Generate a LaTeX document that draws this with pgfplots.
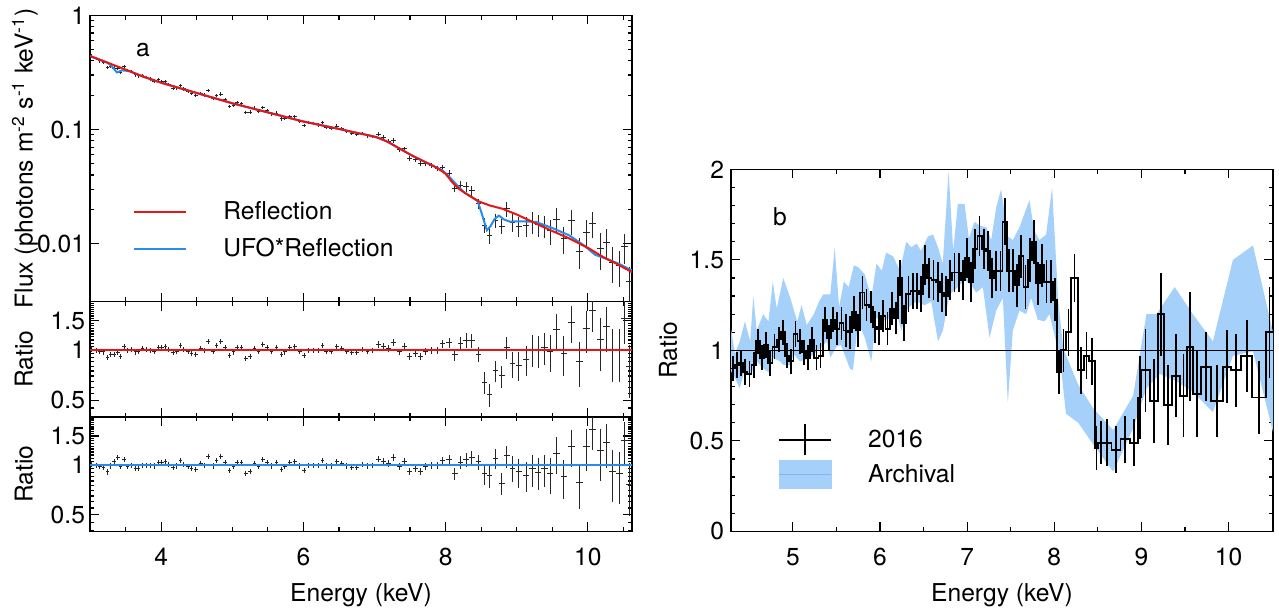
\documentclass[border=0pt]{standalone}
\usepackage{fontspec}
\setmainfont{TeX Gyre Heros}
\usepackage{pgfplots}
\usepackage{pgfplotstable}
\pgfplotsset{compat=1.18}
\usepgfplotslibrary{fillbetween}

\definecolor{modred}{RGB}{228,22,22}
\definecolor{modblue}{RGB}{40,140,235}
\definecolor{bandblue}{RGB}{164,208,250}
\definecolor{bandline}{RGB}{125,182,240}
\newcommand\ff{\fontsize{12.3}{14}\selectfont}

% spectrum: energy, flux, ratio to reflection, ratio to UFO*reflection, x half width, relative error
\pgfplotstableread{
E F r1 r2 ex rel
3.02 0.440 1.009 1.009 0.025 0.035
3.085 0.421 1.0 0.991 0.025 0.035
3.14 0.399 0.978 0.978 0.025 0.035
3.19 0.387 0.974 0.966 0.025 0.035
3.245 0.349 0.904 0.908 0.025 0.035
3.29 0.355 0.944 0.987 0.025 0.035
3.34 0.345 0.944 1.044 0.025 0.035
3.39 0.344 0.966 1.105 0.025 0.035
3.43 0.319 0.916 0.978 0.025 0.035
3.48 0.357 1.053 1.076 0.025 0.035
3.53 0.329 1.0 0.978 0.025 0.035
3.58 0.323 1.009 0.991 0.025 0.035
3.64 0.301 0.974 0.957 0.025 0.035
3.68 0.296 0.978 0.957 0.025 0.035
3.74 0.297 1.017 1.0 0.025 0.035
3.79 0.287 1.009 1.0 0.025 0.035
3.85 0.277 1.0 0.991 0.025 0.035
3.90 0.266 0.987 0.987 0.025 0.035
3.96 0.273 1.04 1.04 0.025 0.035
4.01 0.264 1.031 1.031 0.025 0.035
4.06 0.264 1.053 1.053 0.025 0.035
4.11 0.248 1.009 1.009 0.025 0.035
4.17 0.231 0.966 0.966 0.025 0.035
4.22 0.232 0.987 0.987 0.025 0.035
4.27 0.244 1.062 1.062 0.025 0.035
4.32 0.227 1.009 1.009 0.025 0.035
4.38 0.215 0.978 0.978 0.025 0.035
4.43 0.206 0.957 0.957 0.025 0.035
4.49 0.198 0.944 0.944 0.025 0.035
4.56 0.207 1.017 1.017 0.025 0.035
4.61 0.200 1.0 1.0 0.025 0.035
4.66 0.219 1.122 1.122 0.025 0.035
4.73 0.187 0.987 0.987 0.025 0.035
4.78 0.198 1.067 1.067 0.025 0.035
4.84 0.204 1.122 1.122 0.025 0.035
4.90 0.182 1.031 1.031 0.025 0.035
4.96 0.159 0.924 0.924 0.025 0.035
5.02 0.164 0.974 0.974 0.025 0.035
5.07 0.172 1.04 1.04 0.025 0.035
5.13 0.168 1.04 1.04 0.025 0.035
5.19 0.141 0.892 0.892 0.025 0.035
5.25 0.142 0.916 0.916 0.025 0.035
5.31 0.154 1.017 1.017 0.025 0.035
5.37 0.145 0.978 0.978 0.025 0.035
5.43 0.156 1.076 1.076 0.025 0.035
5.49 0.146 1.031 1.031 0.025 0.035
5.55 0.137 0.987 0.987 0.025 0.035
5.62 0.139 1.031 1.031 0.025 0.035
5.69 0.124 0.944 0.944 0.025 0.035
5.74 0.126 0.974 0.974 0.025 0.035
5.81 0.130 1.031 1.031 0.025 0.035
5.88 0.129 1.053 1.053 0.025 0.035
5.95 0.118 0.987 0.987 0.025 0.035
6.01 0.108 0.924 0.924 0.025 0.035
6.07 0.115 0.996 0.996 0.025 0.035
6.14 0.113 1.0 1.0 0.025 0.035
6.21 0.110 0.996 0.996 0.025 0.035
6.27 0.115 1.062 1.062 0.025 0.035
6.32 0.105 0.987 0.987 0.025 0.035
6.39 0.103 0.987 0.987 0.025 0.035
6.47 0.107 1.053 1.053 0.025 0.035
6.54 0.102 1.017 1.017 0.025 0.035
6.61 0.0964 0.987 0.987 0.025 0.035
6.68 0.0923 0.966 0.966 0.025 0.035
6.75 0.0903 0.966 0.966 0.025 0.035
6.83 0.0920 1.009 1.009 0.025 0.035
6.90 0.0880 0.987 0.987 0.025 0.035
6.97 0.0869 0.996 0.996 0.025 0.035
7.05 0.0913 1.085 1.085 0.035 0.045
7.12 0.0854 1.053 1.053 0.035 0.045
7.19 0.0790 1.022 1.022 0.035 0.045
7.27 0.0803 1.108 1.108 0.035 0.045
7.35 0.0666 0.978 0.978 0.035 0.045
7.42 0.0678 1.053 1.053 0.035 0.045
7.49 0.0558 0.916 0.916 0.035 0.045
7.57 0.0547 0.953 0.953 0.035 0.05
7.64 0.0500 0.916 0.916 0.035 0.05
7.72 0.0505 0.978 0.978 0.035 0.05
7.80 0.0488 1.0 1.0 0.035 0.05
7.88 0.0459 1.0 1.0 0.035 0.05
7.96 0.0463 1.09 1.067 0.035 0.055
8.05 0.0412 1.108 1.08 0.04 0.07
8.13 0.0307 0.936 0.885 0.04 0.08
8.21 0.0325 1.099 1.035 0.04 0.09
8.29 0.0314 1.145 1.08 0.04 0.1
8.37 0.0290 1.136 1.105 0.04 0.1
8.46 0.0223 0.944 1.044 0.04 0.1
8.545 0.0145 0.642 0.888 0.04 0.15
8.616 0.0119 0.541 0.862 0.04 0.16
8.70 0.0159 0.752 1.099 0.04 0.14
8.79 0.0142 0.70 0.774 0.04 0.15
8.86 0.0203 1.04 1.136 0.04 0.15
8.94 0.0153 0.826 0.957 0.04 0.18
9.03 0.0142 0.814 0.908 0.045 0.2
9.13 0.0143 0.876 0.864 0.045 0.2
9.22 0.0156 1.009 0.948 0.045 0.22
9.30 0.0147 1.0 0.904 0.045 0.22
9.39 0.0144 1.04 0.948 0.045 0.22
9.47 0.0130 0.987 0.888 0.045 0.25
9.56 0.0164 1.322 1.175 0.045 0.25
9.66 0.0111 0.957 0.85 0.045 0.27
9.77 0.0159 1.47 1.30 0.05 0.25
9.88 0.00857 0.857 0.78 0.05 0.3
9.98 0.0125 1.34 1.286 0.05 0.28
10.06 0.0150 1.715 1.65 0.05 0.25
10.18 0.00912 1.16 1.23 0.05 0.35
10.26 0.0103 1.39 1.37 0.05 0.3
10.35 0.0069 0.996 0.916 0.05 0.35
10.44 0.00645 0.996 0.893 0.05 0.35
10.52 0.00943 1.55 1.40 0.05 0.3
10.585 0.00462 0.80 0.76 0.05 0.35
}\spec

\pgfplotstableread{
E F
3.00 0.4406
3.25 0.3846
3.50 0.3350
3.75 0.2904
4.00 0.2570
4.25 0.2317
4.50 0.2089
4.75 0.1884
5.00 0.1698
5.25 0.1549
5.50 0.1413
5.75 0.1288
6.00 0.1175
6.25 0.1091
6.50 0.1012
6.75 0.0935
6.90 0.0895
7.00 0.0865
7.05 0.0847
7.15 0.0798
7.20 0.0771
7.30 0.0711
7.40 0.0655
7.53 0.0590
7.70 0.0524
7.86 0.0468
7.95 0.0431
8.00 0.0408
8.05 0.0374
8.09 0.0346
8.14 0.0322
8.19 0.0302
8.26 0.0281
8.33 0.0264
8.47 0.0234
8.62 0.0216
8.80 0.0202
9.00 0.0180
9.27 0.0150
9.50 0.0129
9.74 0.0111
10.02 0.00904
10.21 0.00766
10.40 0.00668
10.62 0.00562
}\refl

\pgfplotstableread{
E F
3.00 0.4406
3.25 0.3846
3.30 0.362
3.38 0.316
3.45 0.330
3.55 0.325
3.75 0.2904
4.00 0.2570
4.25 0.2317
4.50 0.2089
4.75 0.1884
5.00 0.1698
5.25 0.1549
5.50 0.1413
5.75 0.1288
6.00 0.1175
6.25 0.1091
6.50 0.1012
6.75 0.0935
6.90 0.0895
7.00 0.0865
7.05 0.0847
7.15 0.0798
7.20 0.0771
7.30 0.0711
7.40 0.0655
7.53 0.0590
7.70 0.0524
7.86 0.0468
7.95 0.0441
8.05 0.0387
8.15 0.0330
8.25 0.0285
8.33 0.0264
8.45 0.0236
8.50 0.0190
8.55 0.0150
8.58 0.0131
8.63 0.0142
8.69 0.0165
8.75 0.0176
8.82 0.0163
8.90 0.0156
9.05 0.0157
9.27 0.0155
9.50 0.0137
9.74 0.0118
9.95 0.0096
10.10 0.0080
10.30 0.0072
10.45 0.0066
10.62 0.0058
}\ufo

% panel b: 2016 ratio per bin (centre, value, error)
\pgfplotstableread{
E R err
4.310 0.90 0.07
4.358 0.92 0.07
4.406 0.93 0.07
4.454 0.88 0.07
4.502 0.87 0.07
4.550 0.92 0.07
4.598 1.05 0.07
4.646 0.96 0.07
4.694 1.03 0.07
4.742 0.93 0.07
4.790 1.02 0.07
4.838 1.06 0.07
4.886 1.10 0.07
4.934 0.97 0.07
4.982 0.94 0.07
5.030 1.09 0.07
5.078 1.05 0.07
5.126 0.99 0.07
5.174 0.96 0.07
5.222 1.06 0.07
5.270 0.96 0.07
5.318 0.97 0.07
5.366 1.17 0.07
5.414 1.07 0.07
5.462 1.17 0.07
5.510 1.12 0.09
5.558 1.15 0.09
5.606 1.11 0.09
5.654 1.10 0.09
5.702 1.21 0.09
5.750 1.11 0.09
5.798 1.32 0.09
5.846 1.25 0.09
5.894 1.24 0.09
5.942 1.13 0.09
5.990 1.12 0.09
6.038 1.19 0.09
6.086 1.12 0.09
6.134 1.23 0.09
6.182 1.18 0.09
6.230 1.40 0.10
6.278 1.15 0.10
6.326 1.31 0.10
6.374 1.33 0.10
6.422 1.33 0.10
6.470 1.31 0.10
6.518 1.47 0.11
6.566 1.40 0.11
6.614 1.39 0.11
6.662 1.38 0.11
6.710 1.32 0.11
6.758 1.30 0.11
6.806 1.39 0.11
6.854 1.43 0.11
6.902 1.43 0.11
6.950 1.39 0.11
6.998 1.51 0.11
7.046 1.38 0.11
7.094 1.56 0.11
7.142 1.63 0.11
7.190 1.56 0.11
7.238 1.55 0.11
7.286 1.40 0.11
7.334 1.44 0.11
7.382 1.44 0.11
7.430 1.71 0.13
7.478 1.44 0.12
7.526 1.44 0.12
7.574 1.36 0.12
7.622 1.52 0.12
7.670 1.35 0.12
7.718 1.50 0.12
7.766 1.60 0.12
7.814 1.37 0.12
7.862 1.47 0.12
7.910 1.38 0.12
7.958 1.38 0.12
8.006 1.28 0.12
8.052 0.88 0.12
8.105 1.00 0.12
8.162 1.10 0.13
8.233 1.40 0.13
8.307 0.89 0.13
8.370 0.97 0.13
8.433 0.94 0.13
8.485 0.46 0.12
8.532 0.49 0.12
8.608 0.49 0.13
8.708 0.45 0.13
8.813 0.51 0.13
8.914 0.49 0.13
8.981 0.74 0.23
9.047 0.89 0.23
9.142 0.72 0.23
9.223 1.20 0.23
9.303 0.70 0.22
9.395 0.86 0.23
9.483 0.75 0.23
9.560 1.02 0.3
9.640 0.76 0.24
9.744 0.91 0.19
9.868 0.72 0.2
9.983 0.91 0.2
10.088 0.89 0.2
10.208 0.97 0.2
10.350 0.74 0.2
10.470 1.10 0.25
}\hist

\pgfplotstableread{
E R
4.29 1.12
4.335 0.98
4.39 1.05
4.45 1.16
4.51 1.05
4.546 1.30
4.585 1.11
4.66 1.20
4.72 1.16
4.77 1.38
4.815 1.23
4.89 1.40
4.97 1.29
5.05 1.16
5.10 1.25
5.16 1.14
5.24 1.20
5.30 1.27
5.35 1.31
5.43 1.31
5.48 1.57
5.53 1.24
5.585 1.38
5.64 1.35
5.70 1.47
5.75 1.46
5.825 1.42
5.90 1.29
5.96 1.48
6.02 1.44
6.07 1.54
6.15 1.52
6.23 1.44
6.30 1.60
6.36 1.57
6.42 1.59
6.47 1.55
6.55 1.63
6.61 1.64
6.665 1.57
6.72 1.48
6.787 1.99
6.84 1.55
6.894 1.81
6.97 1.81
7.02 1.62
7.085 1.71
7.14 1.69
7.22 1.68
7.276 1.61
7.333 1.79
7.39 1.89
7.467 1.63
7.524 1.61
7.60 1.68
7.715 1.83
7.77 1.66
7.83 1.61
7.906 1.64
7.975 1.90
8.046 1.27
8.103 1.01
8.275 0.81
8.447 0.68
8.676 0.56
8.905 0.75
9.057 1.20
9.172 1.20
9.382 1.35
9.59 1.20
9.82 1.05
10.05 1.50
10.28 1.58
10.51 1.10
}\bandup

\pgfplotstableread{
E R
4.29 0.885
4.335 0.85
4.39 0.79
4.45 0.90
4.51 0.86
4.585 0.94
4.66 0.90
4.72 0.88
4.77 0.96
4.85 0.94
4.89 0.92
4.97 0.92
5.01 0.98
5.08 0.94
5.16 0.95
5.24 0.98
5.315 1.01
5.39 1.05
5.43 0.96
5.50 1.02
5.55 1.03
5.60 0.97
5.653 0.90
5.69 0.89
5.748 1.16
5.825 1.07
5.90 0.94
5.958 1.18
6.035 1.16
6.111 1.18
6.188 1.21
6.245 1.11
6.321 1.235
6.417 1.27
6.512 1.25
6.588 1.27
6.665 1.05
6.722 1.11
6.798 1.31
6.894 1.35
6.97 1.39
7.047 1.36
7.104 1.32
7.18 1.35
7.257 1.07
7.333 1.22
7.41 1.29
7.467 0.71
7.524 1.11
7.60 1.22
7.677 1.20
7.734 1.29
7.81 1.17
7.887 1.16
7.944 1.20
7.98 1.13
8.065 0.96
8.134 0.65
8.275 0.60
8.447 0.48
8.676 0.33
8.905 0.57
9.057 0.79
9.21 0.87
9.40 0.83
9.59 0.77
9.82 0.66
10.05 0.97
10.28 0.995
10.51 0.55
}\bandlo

\pgfplotsset{
  every axis/.append style={
    scale only axis, width=271pt,
    axis line style={line width=0.7pt},
    tick style={line width=0.6pt, black},
    major tick length=4.5pt, minor tick length=2.2pt,
    tick align=inside,
    tick label style={font=\ff},
    label style={font=\ff},
  },
}

\begin{document}
\begin{tikzpicture}
\path (0pt,0pt) rectangle (639.5pt,303.5pt);

% panel a, spectrum
\begin{axis}[at={(45pt,154.85pt)}, anchor=south west, height=143.15pt,
  /pgfplots/ymode=log,
  xmin=3, xmax=10.62, xtick={4,6,8,10},
  minor xtick={3,3.5,4.5,5,5.5,6.5,7,7.5,8.5,9,9.5,10.5},
  xticklabels={},
  ymin=0.0031, ymax=1,
  ytick={0.01,0.1,1}, yticklabels={0.01,0.1,1}, yticklabel shift=-1pt,
  ylabel={Flux (photons m\textsuperscript{-2} s\textsuperscript{-1} keV\textsuperscript{-1})},
  ylabel style={at={(axis description cs:-0.12,0.5)}, anchor=center},
  legend cell align=left,
  legend style={draw=none, fill=none, at={(rel axis cs:0.0793,0.36)}, anchor=north west,
    font=\ff, row sep=6pt, inner sep=0pt, nodes={inner sep=1pt},
    /tikz/every odd column/.append style={column sep=17pt}},
  legend image code/.code={\draw[#1] (0pt,0pt) -- (26pt,0pt);},
]
\addplot[draw=none, mark=none, forget plot,
  error bars/.cd, x dir=both, x explicit, y dir=both, y explicit relative,
  error mark=none, error bar style={draw=black!85, line width=0.5pt}]
  table[x=E, y=F, x error=ex, y error=rel] {\spec};
\addplot[modblue, line width=1pt, forget plot] table[x=E, y=F] {\ufo};
\addplot[modred, line width=1pt, forget plot] table[x=E, y=F] {\refl};
\addlegendimage{modred, line width=1pt}
\addlegendentry{Reflection}
\addlegendimage{modblue, line width=1pt}
\addlegendentry{UFO*Reflection}
\node[font=\ff] at (rel axis cs:0.0978,0.878) {a};
\end{axis}

% panel a, ratio to reflection
\begin{axis}[at={(45pt,97.15pt)}, anchor=south west, height=57.7pt,
  /pgfplots/ymode=log,
  xmin=3, xmax=10.62, xtick={4,6,8,10},
  minor xtick={3,3.5,4.5,5,5.5,6.5,7,7.5,8.5,9,9.5,10.5},
  xticklabels={},
  ymin=0.397, ymax=1.949,
  ytick={0.5,1,1.5}, yticklabels={0.5,1,1.5}, yticklabel shift=-1pt,
  minor ytick={0.4,0.45,0.55,0.6,0.65,0.7,0.75,0.8,0.85,0.9,0.95,1.05,1.1,1.15,1.2,1.25,1.3,1.35,1.4,1.45,1.55,1.6,1.65,1.7,1.75,1.8,1.85,1.9},
  ylabel={Ratio}, ylabel style={at={(axis description cs:-0.122,0.5)}, anchor=center},
]
\addplot[draw=none, mark=none, forget plot,
  error bars/.cd, x dir=both, x explicit, y dir=both, y explicit relative,
  error mark=none, error bar style={draw=black!85, line width=0.5pt}]
  table[x=E, y=r1, x error=ex, y error=rel] {\spec};
\addplot[modred, line width=1pt, forget plot] coordinates {(3,1) (10.62,1)};
\end{axis}

% panel a, ratio to UFO*reflection
\begin{axis}[at={(45pt,40pt)}, anchor=south west, height=57.15pt,
  /pgfplots/ymode=log,
  xmin=3, xmax=10.62, xtick={4,6,8,10},
  minor xtick={3,3.5,4.5,5,5.5,6.5,7,7.5,8.5,9,9.5,10.5},
  xticklabels={4,6,8,10}, xticklabel shift=5pt,
  ymin=0.397, ymax=1.949,
  ytick={0.5,1,1.5}, yticklabels={0.5,1,1.5}, yticklabel shift=-1pt,
  minor ytick={0.4,0.45,0.55,0.6,0.65,0.7,0.75,0.8,0.85,0.9,0.95,1.05,1.1,1.15,1.2,1.25,1.3,1.35,1.4,1.45,1.55,1.6,1.65,1.7,1.75,1.8,1.85,1.9},
  ylabel={Ratio}, ylabel style={at={(axis description cs:-0.122,0.5)}, anchor=center},
  xlabel={Energy (keV)}, xlabel style={at={(axis description cs:0.5,-0.561)}, anchor=center},
]
\addplot[draw=none, mark=none, forget plot,
  error bars/.cd, x dir=both, x explicit, y dir=both, y explicit relative,
  error mark=none, error bar style={draw=black!85, line width=0.5pt}]
  table[x=E, y=r2, x error=ex, y error=rel] {\spec};
\addplot[modblue, line width=1pt, forget plot] coordinates {(3,1) (10.62,1)};
\end{axis}

% panel b
\begin{axis}[at={(365.5pt,40pt)}, anchor=south west, height=181pt,
  xmin=4.29, xmax=10.51, xtick={5,6,7,8,9,10}, minor x tick num=1,
  xticklabels={5,6,7,8,9,10},
  ymin=0, ymax=2, ytick={0,0.5,1,1.5,2}, minor y tick num=4,
  yticklabels={0,0.5,1,1.5,2},
  xticklabel shift=5pt,
  xlabel={Energy (keV)}, xlabel style={at={(axis description cs:0.5,-0.1768)}, anchor=center},
  ylabel={Ratio}, ylabel style={at={(axis description cs:-0.116,0.5)}, anchor=center},
  legend cell align=left,
  legend style={draw=none, fill=none, at={(rel axis cs:0.0867,0.299)}, anchor=north west,
    font=\ff, row sep=2pt, inner sep=0pt, nodes={inner sep=1pt},
    /tikz/every odd column/.append style={column sep=17pt}},
]
\addplot[name path=up, draw=none, forget plot] table[x=E, y=R] {\bandup};
\addplot[name path=lo, draw=none, forget plot] table[x=E, y=R] {\bandlo};
\addplot[bandblue, forget plot] fill between[of=up and lo];
\addplot[black, line width=0.5pt, forget plot] coordinates {(4.29,1) (10.51,1)};
% 2016 histogram, bin edges and values
\addplot[black, line width=0.9pt, mark=none, forget plot] coordinates {
(4.286,0.90)(4.334,0.90)(4.334,0.92)(4.382,0.92)(4.382,0.93)(4.430,0.93)(4.430,0.88)(4.478,0.88)
(4.478,0.87)(4.526,0.87)(4.526,0.92)(4.574,0.92)(4.574,1.05)(4.622,1.05)(4.622,0.96)(4.670,0.96)
(4.670,1.03)(4.718,1.03)(4.718,0.93)(4.766,0.93)(4.766,1.02)(4.814,1.02)(4.814,1.06)(4.862,1.06)
(4.862,1.10)(4.910,1.10)(4.910,0.97)(4.958,0.97)(4.958,0.94)(5.006,0.94)(5.006,1.09)(5.054,1.09)
(5.054,1.05)(5.102,1.05)(5.102,0.99)(5.150,0.99)(5.150,0.96)(5.198,0.96)(5.198,1.06)(5.246,1.06)
(5.246,0.96)(5.294,0.96)(5.294,0.97)(5.342,0.97)(5.342,1.17)(5.390,1.17)(5.390,1.07)(5.438,1.07)
(5.438,1.17)(5.486,1.17)(5.486,1.12)(5.534,1.12)(5.534,1.15)(5.582,1.15)(5.582,1.11)(5.630,1.11)
(5.630,1.10)(5.678,1.10)(5.678,1.21)(5.726,1.21)(5.726,1.11)(5.774,1.11)(5.774,1.32)(5.822,1.32)
(5.822,1.25)(5.870,1.25)(5.870,1.24)(5.918,1.24)(5.918,1.13)(5.966,1.13)(5.966,1.12)(6.014,1.12)
(6.014,1.19)(6.062,1.19)(6.062,1.12)(6.110,1.12)(6.110,1.23)(6.158,1.23)(6.158,1.18)(6.206,1.18)
(6.206,1.40)(6.254,1.40)(6.254,1.15)(6.302,1.15)(6.302,1.31)(6.350,1.31)(6.350,1.33)(6.398,1.33)
(6.398,1.33)(6.446,1.33)(6.446,1.31)(6.494,1.31)(6.494,1.47)(6.542,1.47)(6.542,1.40)(6.590,1.40)
(6.590,1.39)(6.638,1.39)(6.638,1.38)(6.686,1.38)(6.686,1.32)(6.734,1.32)(6.734,1.30)(6.782,1.30)
(6.782,1.39)(6.830,1.39)(6.830,1.43)(6.878,1.43)(6.878,1.43)(6.926,1.43)(6.926,1.39)(6.974,1.39)
(6.974,1.51)(7.022,1.51)(7.022,1.38)(7.070,1.38)(7.070,1.56)(7.118,1.56)(7.118,1.63)(7.166,1.63)
(7.166,1.56)(7.214,1.56)(7.214,1.55)(7.262,1.55)(7.262,1.40)(7.310,1.40)(7.310,1.44)(7.358,1.44)
(7.358,1.44)(7.406,1.44)(7.406,1.71)(7.454,1.71)(7.454,1.44)(7.502,1.44)(7.502,1.44)(7.550,1.44)
(7.550,1.36)(7.598,1.36)(7.598,1.52)(7.646,1.52)(7.646,1.35)(7.694,1.35)(7.694,1.50)(7.742,1.50)
(7.742,1.60)(7.790,1.60)(7.790,1.37)(7.838,1.37)(7.838,1.47)(7.886,1.47)(7.886,1.38)(7.934,1.38)
(7.934,1.38)(7.982,1.38)(7.982,1.28)(8.030,1.28)(8.030,0.88)(8.076,0.88)(8.076,1.00)(8.134,1.00)
(8.134,1.10)(8.191,1.10)(8.191,1.40)(8.275,1.40)(8.275,0.89)(8.340,0.89)(8.340,0.97)(8.400,0.97)
(8.400,0.94)(8.466,0.94)(8.466,0.46)(8.504,0.46)(8.504,0.49)(8.561,0.49)(8.561,0.49)(8.656,0.49)
(8.656,0.45)(8.760,0.45)(8.760,0.51)(8.866,0.51)(8.866,0.49)(8.962,0.49)(8.962,0.74)(9.000,0.74)
(9.000,0.89)(9.095,0.89)(9.095,0.72)(9.190,0.72)(9.190,1.20)(9.256,1.20)(9.256,0.70)(9.351,0.70)
(9.351,0.86)(9.439,0.86)(9.439,0.75)(9.527,0.75)(9.527,1.02)(9.592,1.02)(9.592,0.76)(9.687,0.76)
(9.687,0.91)(9.800,0.91)(9.800,0.72)(9.935,0.72)(9.935,0.91)(10.030,0.91)(10.030,0.89)(10.145,0.89)
(10.145,0.97)(10.270,0.97)(10.270,0.74)(10.430,0.74)(10.430,1.10)(10.510,1.10)};
\addplot[draw=none, mark=none, forget plot,
  error bars/.cd, y dir=both, y explicit, error mark=none,
  error bar style={draw=black, line width=0.9pt}] table[x=E, y=R, y error=err] {\hist};
\addlegendimage{legend image code/.code={
  \draw[black, line width=0.9pt] (0pt,0pt) -- (26pt,0pt);
  \draw[black, line width=0.9pt] (13pt,-7.75pt) -- (13pt,7.75pt);}}
\addlegendentry{2016}
\addlegendimage{legend image code/.code={
  \fill[bandblue] (0pt,-7pt) rectangle (26pt,7pt);
  \draw[bandline, line width=0.4pt] (0pt,0pt) -- (26pt,0pt);}}
\addlegendentry{Archival}
\node[font=\ff] at (rel axis cs:0.0904,0.870) {b};
\end{axis}
\end{tikzpicture}
\end{document}
